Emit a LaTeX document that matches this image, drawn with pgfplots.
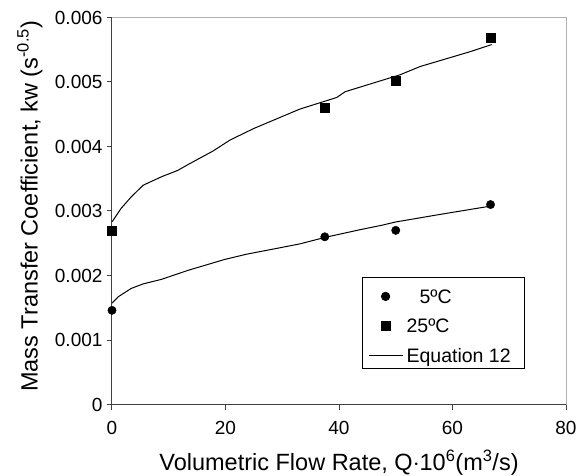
\documentclass[border=0pt]{standalone}
\usepackage{fontspec}
\setmainfont{Liberation Sans}
\usepackage{pgfplots}
\pgfplotsset{compat=1.18}
\definecolor{axdark}{HTML}{404040}
\definecolor{axlight}{HTML}{B0B0B0}
\pgfplotsset{
  markleg/.style={legend image code/.code={\draw[mark repeat=2,mark phase=2,##1] plot coordinates {(0bp,7bp)(17bp,7bp)(34bp,7bp)};}},
  lineleg/.style={legend image code/.code={\draw[##1] (0bp,7bp) -- (34bp,7bp);}},
}
\begin{document}
\begin{tikzpicture}
\begin{axis}[
  at={(0,0)}, anchor=south west,
  scale only axis, width=454bp, height=387bp,
  xmin=0, xmax=80, ymin=0, ymax=0.006,
  xtick={0,20,40,60,80},
  xticklabels={0,20,40,60,80},
  ytick={0,0.001,0.002,0.003,0.004,0.005,0.006},
  yticklabels={0,0.001,0.002,0.003,0.004,0.005,0.006},
  scaled y ticks=false,
  /pgf/number format/assume math mode=true,
  tick align=outside, xtick pos=bottom, ytick pos=left,
  major tick length=5bp,
  tick style={color=axdark, line width=1bp},
  axis line style={color=axlight, line width=1bp},
  ticklabel style={font=\fontsize{19bp}{21bp}\selectfont, text=black},
  xticklabel style={anchor=north, inner sep=0pt, yshift=-12bp},
  yticklabel style={xshift=-1bp},
  xlabel={Volumetric Flow Rate, Q$\cdot$10\textsuperscript{6}(m\textsuperscript{3}/s)},
  ylabel={Mass Transfer Coefficient, kw (s\textsuperscript{-0.5})},
  label style={font=\fontsize{23.5bp}{26bp}\selectfont},
  xlabel style={at={(axis description cs:0.5,0)}, anchor=base, yshift=-65.5bp, inner sep=0pt},
  ylabel style={at={(axis description cs:-0.164,0.512)}, anchor=base, rotate=0, inner sep=0pt},
  clip=false,
  legend style={at={(axis description cs:0.550,0.3287)}, anchor=north west,
    draw=black, line width=0.8bp, inner xsep=6bp, inner ysep=4.2bp,
    font=\fontsize{19.5bp}{21bp}\selectfont, row sep=6.5bp, column sep=2bp,
    nodes={inner sep=1.5bp, text height=20bp, text depth=0bp, anchor=base west}},
  legend cell align=left,
]
\draw[color=axdark, line width=1bp] (rel axis cs:0,0) -- (rel axis cs:0,1);
\draw[color=axdark, line width=1bp] (rel axis cs:0,0) -- (rel axis cs:1,0);

\addplot[only marks, mark=*, mark size=4.2bp, color=black, markleg]
  coordinates {(0,0.00146) (37.5,0.0026) (50,0.0027) (66.7,0.0031)};
\addlegendentry{\hspace*{13bp}5ºC}

\addplot[only marks, mark=square*, mark size=4.5bp, color=black, markleg]
  coordinates {(0,0.0027) (37.5,0.0046) (50,0.00502) (66.7,0.00569)};
\addlegendentry{25ºC}

\addplot[no marks, color=black, line width=1bp, lineleg]
  coordinates {(0,0.00157) (1.1,0.00167) (3.4,0.00180) (5.5,0.00187) (8.7,0.00194)
   (13.4,0.00208) (19.9,0.00225) (23.7,0.00233) (29.6,0.00243) (33.1,0.00249)
   (37.5,0.00259) (43.7,0.00271) (47.6,0.00278) (50,0.00283) (58,0.00295) (66.3,0.00307)};
\addlegendentry{Equation 12\hspace*{6bp}}

\addplot[no marks, color=black, line width=1bp, forget plot]
  coordinates {(0,0.00283) (1.6,0.00304) (3.4,0.00322) (5.5,0.00340) (8.7,0.00353)
   (11.6,0.00363) (13.4,0.00372) (17.8,0.00393) (20.8,0.00410) (25,0.00428)
   (33.1,0.00458) (39.6,0.00476) (41.1,0.00485) (50.7,0.00511) (54.3,0.00524)
   (63.1,0.00547) (66.9,0.00558)};
\end{axis}
\pgfresetboundingbox
\path[use as bounding box] (-112bp,-71.5bp) rectangle (475bp,404.5bp);
\end{tikzpicture}
\end{document}
